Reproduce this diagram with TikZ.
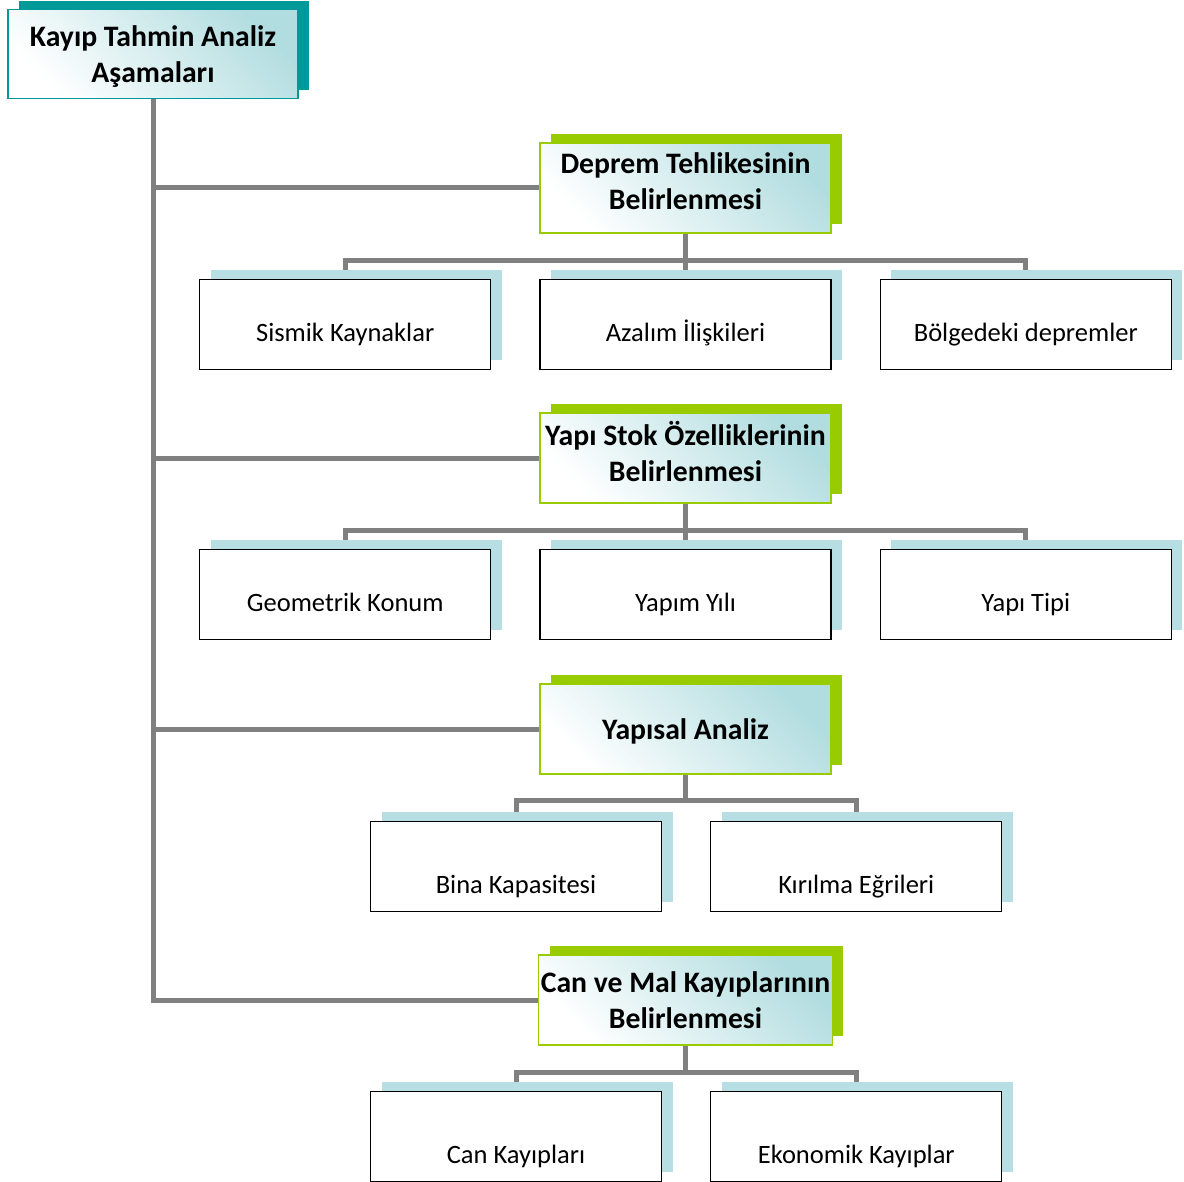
\documentclass[tikz,border=0pt]{standalone}
\usepackage{fontspec}
\setmainfont{Carlito}
\usetikzlibrary{positioning,shadows,backgrounds}
\definecolor{tealD}{RGB}{0,153,153}
\definecolor{greenL}{RGB}{153,204,0}
\definecolor{blueL}{RGB}{183,222,226}
\definecolor{shadeT}{RGB}{178,221,224}
\definecolor{linkG}{RGB}{128,128,128}

\begin{document}
\begin{tikzpicture}[x=1pt,y=-1pt,node distance=48pt,
  rootbox/.style={draw=tealD,line width=1.5pt,minimum width=290pt,minimum height=89pt,inner sep=2pt,align=center,text depth=0pt,font=\fontsize{29.7}{36}\selectfont\bfseries,top color=shadeT,bottom color=white,shading angle=-45,general shadow={fill=tealD,shadow xshift=11pt,shadow yshift=8pt}},
  head/.style={draw=greenL,line width=1.2pt,minimum width=291pt,minimum height=90pt,inner sep=2pt,align=center,text depth=#1,font=\fontsize{29.7}{36}\selectfont\bfseries,top color=shadeT,bottom color=white,shading angle=-45,general shadow={fill=greenL,shadow xshift=11pt,shadow yshift=9pt}},
  head/.default=14pt,
  kid/.style={draw=black,line width=1.3pt,fill=white,minimum width=291pt,minimum height=90pt,inner sep=2pt,text height=#1,text depth=0pt,font=\fontsize{26.5}{32}\selectfont,general shadow={fill=blueL,shadow xshift=11pt,shadow yshift=9pt}},
  kid/.default=34pt,
  link/.style={draw=linkG,line width=5pt}]
\useasboundingbox (0,0) rectangle (1184,1182);
\node[rootbox] (root) at (153,54) {Kayıp Tahmin Analiz\\Aşamaları};
\node[head] (dh) at (685.5,188) {Deprem Tehlikesinin\\Belirlenmesi};
\node[head] (ys) at (685.5,458) {Yapı Stok Özelliklerinin\\Belirlenmesi};
\node[head=0pt] (ya) at (685.5,729) {Yapısal Analiz};
\node[head=0pt] (cm) at (685.5,1000) {Can ve Mal Kayıplarının\\Belirlenmesi};
\node[kid,below=45pt of dh] (ai) {Azalım İlişkileri};
\node[kid,left=of ai] (sk) {Sismik Kaynaklar};
\node[kid,right=of ai] (bd) {Bölgedeki depremler};
\node[kid,below=45pt of ys] (yy) {Yapım Yılı};
\node[kid,left=of yy] (gk) {Geometrik Konum};
\node[kid,right=of yy] (yt) {Yapı Tipi};
\node[kid=54pt,below=46pt of ya,xshift=-169.5pt] (bk) {Bina Kapasitesi};
\node[kid=54pt,right=of bk] (ke) {Kırılma Eğrileri};
\node[kid=54pt,below=45pt of cm,xshift=-169.5pt] (ck) {Can Kayıpları};
\node[kid=54pt,right=of ck] (ek) {Ekonomik Kayıplar};
\begin{scope}[on background layer]
\foreach \h in {dh,ys,ya,cm}
  \draw[link] (root.south) |- (\h.west);
\foreach \k in {sk,ai,bd}
  \draw[link] (dh.south) -- ++(0,27) -| (\k.north);
\foreach \k in {gk,yy,yt}
  \draw[link] (ys.south) -- ++(0,27) -| (\k.north);
\foreach \k in {bk,ke}
  \draw[link] (ya.south) -- ++(0,26) -| (\k.north);
\foreach \k in {ck,ek}
  \draw[link] (cm.south) -- ++(0,27) -| (\k.north);
\end{scope}
\end{tikzpicture}
\end{document}
